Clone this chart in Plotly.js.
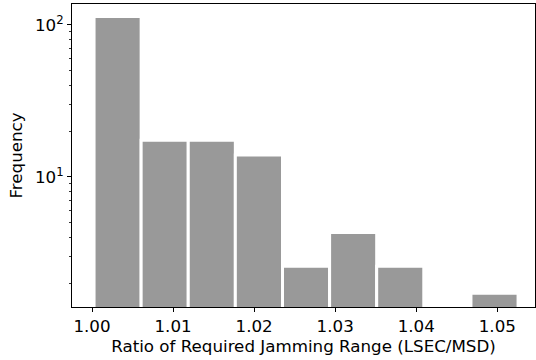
<!DOCTYPE html>
<html>
<head>
<meta charset="utf-8">
<script src="https://cdn.plot.ly/plotly-3.0.1.min.js"></script>
<style>html,body{margin:0;padding:0;background:#fff;}#chart{width:536px;height:360px;}</style>
</head>
<body>
<div id="chart"></div>
<script>
// Histogram bin edges (ratio LSEC/MSD)
var binEdges = [1.00025, 1.00606, 1.01187, 1.01768, 1.02350, 1.02931, 1.03512, 1.04093, 1.04675, 1.05256];
// Frequency per bin (log scale, empty bin = null)
var frequency = [113, 17.4, 17.4, 13.9, 2.59, 4.31, 2.59, null, 1.72];
// Axis tick labels
var xTickVals = [1.00, 1.01, 1.02, 1.03, 1.04, 1.05];
var xTickText = ["1.00", "1.01", "1.02", "1.03", "1.04", "1.05"];
var yTickVals = [10, 100];
var yTickText = ["10<sup>1</sup>", "10<sup>2</sup>"];
var yMinorVals = [2, 3, 4, 5, 6, 7, 8, 9, 20, 30, 40, 50, 60, 70, 80, 90];

var centers = [], widths = [];
for (var i = 0; i < binEdges.length - 1; i++) {
  centers.push((binEdges[i] + binEdges[i + 1]) / 2);
  widths.push(binEdges[i + 1] - binEdges[i]);
}

var trace = {
  type: 'bar',
  x: centers,
  y: frequency,
  width: widths,
  marker: {color: '#999999', line: {color: '#ffffff', width: 3}},
  hoverinfo: 'x+y'
};

var font = {family: 'DejaVu Sans, sans-serif', size: 16.7, color: '#000'};

var layout = {
  width: 536, height: 360,
  margin: {l: 72, r: 1, t: 4, b: 53},
  paper_bgcolor: '#fff', plot_bgcolor: '#fff',
  showlegend: false,
  font: font,
  xaxis: {
    range: [0.99753, 1.05465],
    tickmode: 'array', tickvals: xTickVals, ticktext: xTickText,
    ticks: 'outside', ticklen: 4, tickwidth: 1, tickcolor: '#000',
    showline: true, linecolor: '#000', linewidth: 1, mirror: true,
    showgrid: false, zeroline: false,
    tickfont: font,
    title: {text: 'Ratio of Required Jamming Range (LSEC/MSD)', font: font, standoff: 5}
  },
  yaxis: {
    type: 'log',
    range: [0.1447, 2.136],
    tickmode: 'array', tickvals: yTickVals, ticktext: yTickText,
    ticks: 'outside', ticklen: 4, tickwidth: 1, tickcolor: '#000',
    minor: {tickmode: 'array', tickvals: yMinorVals, ticks: 'outside', ticklen: 2, tickwidth: 0.8, tickcolor: '#000', showgrid: false},
    showline: true, linecolor: '#000', linewidth: 1, mirror: true,
    showgrid: false, zeroline: false,
    tickfont: font,
    title: {text: 'Frequency', font: font, standoff: 8}
  }
};

Plotly.newPlot('chart', [trace], layout, {displayModeBar: false, staticPlot: true});
</script>
</body>
</html>
